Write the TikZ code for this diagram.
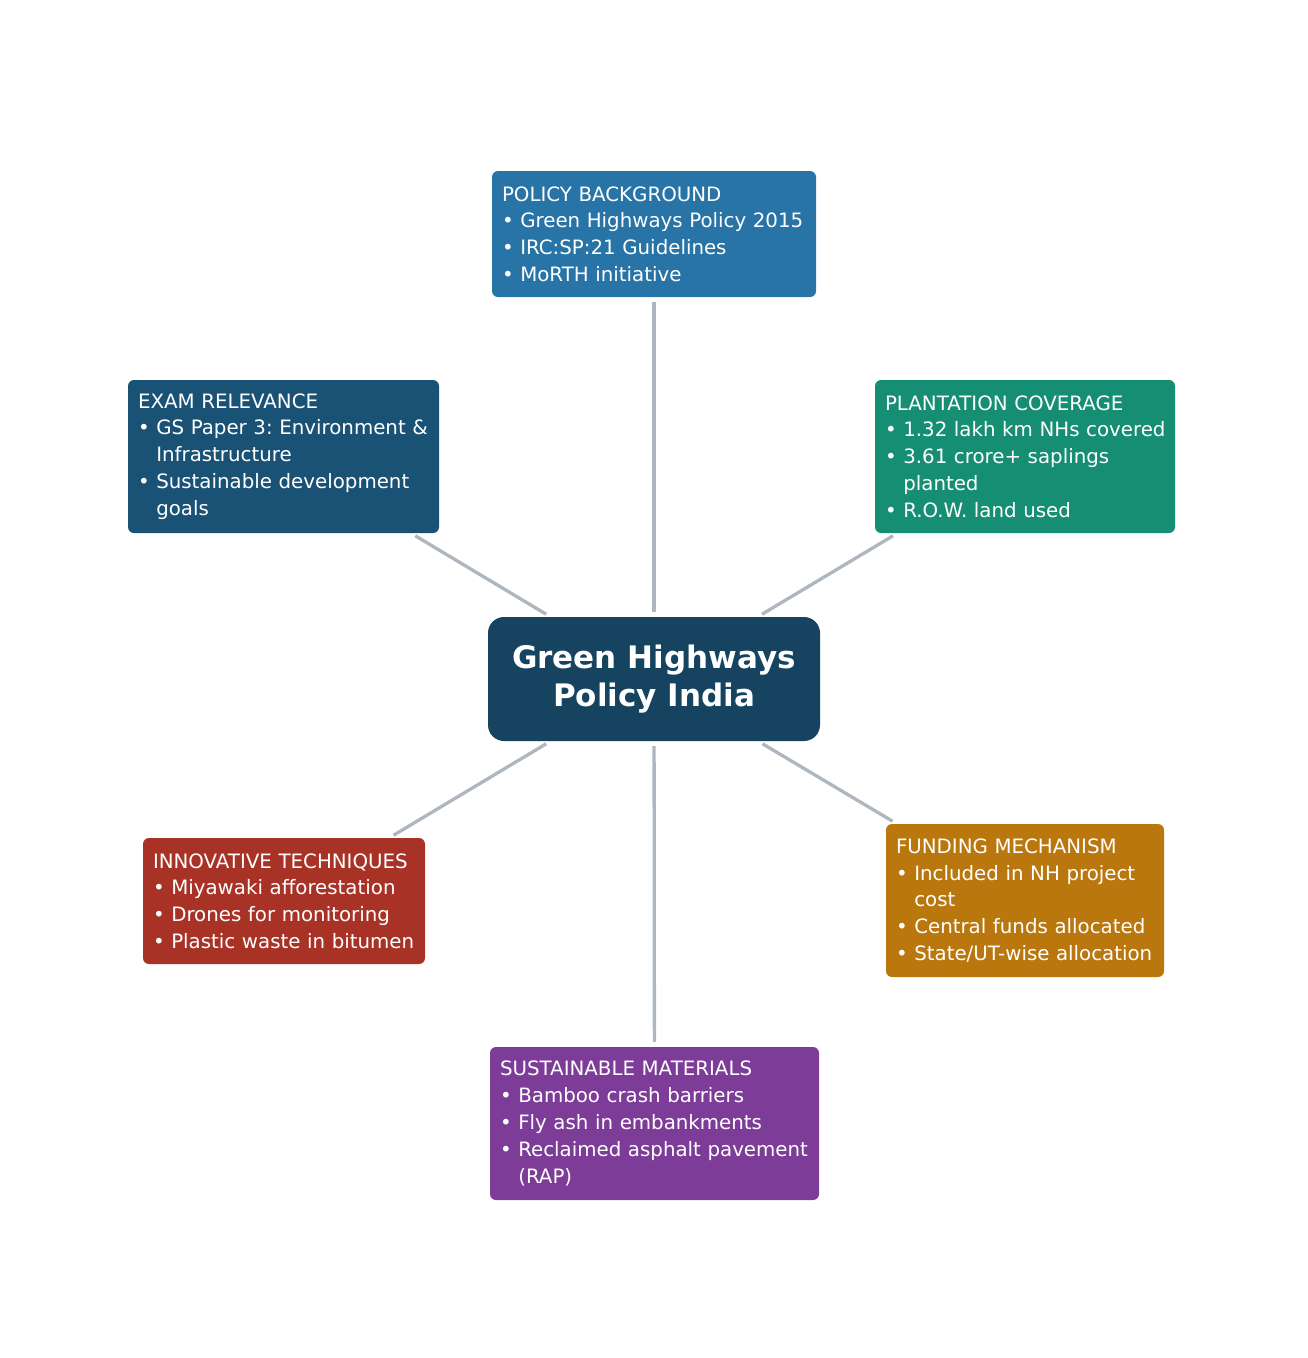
\documentclass[tikz,border=0pt]{standalone}
\usepackage{fontspec}
\setmainfont{DejaVu Sans}
\frenchspacing
\hyphenpenalty=10000
\exhyphenpenalty=10000
\definecolor{cPolicy}{HTML}{2874A6}
\definecolor{cExam}{HTML}{1A5276}
\definecolor{cPlant}{HTML}{168E74}
\definecolor{cCenter}{HTML}{154360}
\definecolor{cInnov}{HTML}{A93226}
\definecolor{cFund}{HTML}{B9770E}
\definecolor{cSust}{HTML}{7D3C98}
\definecolor{cLine}{HTML}{AEB6BF}
\newcommand{\ind}{\phantom{•\ }}
\begin{document}
\begin{tikzpicture}[x=1pt,y=-1pt,
  box/.style={rounded corners=6pt, text=white, align=left, inner xsep=10pt, inner ysep=0pt,
    font=\fontsize{19.8}{26.8}\selectfont},
  cbox/.style={rounded corners=16pt, fill=cCenter, text=white, align=center,
    font=\fontsize{31}{37.5}\selectfont\bfseries, minimum width=332pt, minimum height=124pt},
  conn/.style={draw=cLine, line width=3.3pt, shorten <=5pt, shorten >=5pt}]
\useasboundingbox (0,0) rectangle (1308,1358);
\node[cbox] (c) at (654,679) {Green Highways\\Policy India};
\node[box, fill=cPolicy, minimum width=324pt, minimum height=126pt, text width=304pt] (policy) at (654,234)
 {POLICY BACKGROUND\\• Green Highways Policy 2015\\• IRC:SP:21 Guidelines\\• MoRTH initiative};
\node[box, fill=cExam, minimum width=311pt, minimum height=153pt, text width=291pt] (exam) at (283.5,456.5)
 {EXAM RELEVANCE\\• GS Paper 3: Environment \&\\\ind Infrastructure\\• Sustainable development\\\ind goals};
\node[box, fill=cPlant, minimum width=300pt, minimum height=153pt, text width=280pt] (plant) at (1025,456.5)
 {PLANTATION COVERAGE\\\mbox{• 1.32 lakh km NHs covered}\\• 3.61 crore+ saplings\\\ind planted\\• R.O.W. land used};
\node[box, fill=cInnov, minimum width=282pt, minimum height=126pt, text width=262pt] (innov) at (284,901)
 {INNOVATIVE TECHNIQUES\\• Miyawaki afforestation\\• Drones for monitoring\\• Plastic waste in bitumen};
\node[box, fill=cFund, minimum width=278pt, minimum height=153pt, text width=258pt] (fund) at (1025,900.5)
 {FUNDING MECHANISM\\• Included in NH project\\\ind cost\\• Central funds allocated\\\mbox{• State/UT-wise allocation}};
\node[box, fill=cSust, minimum width=329pt, minimum height=153pt, text width=309pt] (sust) at (654.5,1123.5)
 {SUSTAINABLE MATERIALS\\• Bamboo crash barriers\\• Fly ash in embankments\\\mbox{• Reclaimed asphalt pavement}\\\ind (RAP)};
\draw[conn] (c) -- (policy);
\draw[conn] (c) -- (exam);
\draw[conn] (c) -- (plant);
\draw[conn] (c) -- (innov);
\draw[conn] (c) -- (fund);
\draw[conn] (c) -- (sust);
\end{tikzpicture}
\end{document}
